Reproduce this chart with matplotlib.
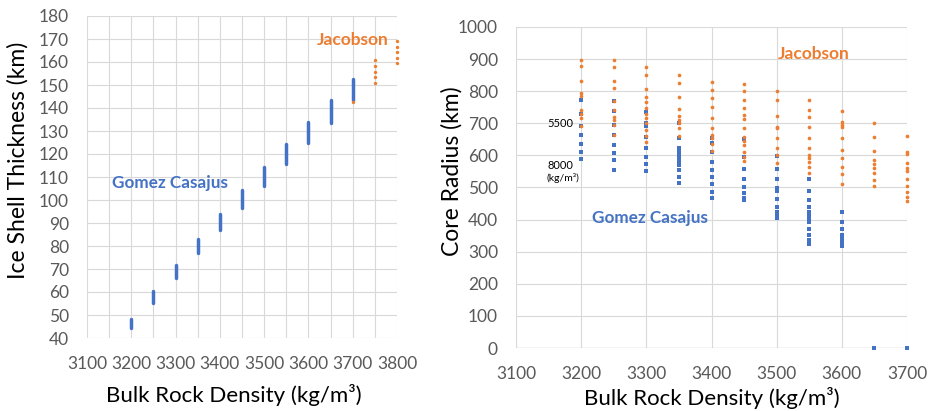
import matplotlib
matplotlib.use("Agg")
import matplotlib.pyplot as plt
from matplotlib.ticker import MultipleLocator

plt.rcParams['font.family'] = ['Lato', 'DejaVu Sans']

BLUE = '#4472C4'
ORANGE = '#ED7D31'
GRID = '#D9D9D9'
TICK = '#595959'

# ---------------- Left panel data: ice shell thickness ----------------
gc_density = [3200, 3250, 3300, 3350, 3400, 3450, 3500, 3550, 3600, 3650, 3700]
gc_shell_min = [44.3, 55.4, 66.1, 76.8, 86.8, 96.6, 106.0, 115.6, 124.6, 133.4, 143.5]
gc_shell_max = [48.4, 60.6, 71.9, 83.0, 93.9, 104.2, 114.3, 124.3, 133.9, 143.5, 152.4]

jac_shell_density = [3700, 3750, 3750, 3750, 3750, 3750, 3800, 3800, 3800, 3800, 3800]
jac_shell_values = [142.8, 160.9, 158.3, 155.8, 153.3, 151.0, 169.3, 166.7, 164.2, 161.9, 159.4]

# ---------------- Right panel data: core radius ----------------
jac_core = {
    3200: [898, 878, 832, 795, 785, 742, 730, 715, 693],
    3250: [897, 875, 832, 809, 770, 740, 720, 710, 695, 665],
    3300: [874, 852, 806, 783, 767, 747, 730, 715, 700, 679, 660, 643],
    3350: [851, 827, 781, 743, 722, 710, 700, 684, 659],
    3400: [829, 803, 778, 752, 716, 685, 664, 655, 635, 613],
    3450: [823, 801, 773, 749, 726, 712, 686, 658, 645, 632, 612, 596, 583],
    3500: [801, 772, 723, 690, 684, 655, 624, 601, 577],
    3550: [772, 741, 720, 690, 653, 622, 601, 591, 578, 565, 544],
    3600: [739, 703, 695, 688, 655, 617, 591, 565, 542, 510],
    3650: [700, 658, 614, 586, 572, 560, 546, 523, 505],
    3700: [660, 612, 604, 577, 562, 550, 525, 505, 487, 471, 459],
}
gc_core = {
    3200: [773, 730, 693, 665, 635, 611, 590],
    3250: [769, 738, 695, 663, 632, 608, 586, 555],
    3300: [736, 700, 693, 658, 624, 596, 572, 551],
    3350: [700, 655, 622, 612, 601, 591, 581, 570, 555, 534, 513],
    3400: [654, 640, 612, 580, 554, 533, 511, 486, 467],
    3450: [651, 596, 558, 527, 503, 484, 468, 461],
    3500: [599, 557, 526, 497, 489, 463, 440, 425, 414, 404],
    3550: [526, 490, 462, 440, 425, 414, 404, 393, 371, 352, 336, 323],
    3600: [425, 393, 370, 352, 340, 328, 319],
    3650: [0],
    3700: [0],
}

fig = plt.figure(figsize=(9.29, 4.11), dpi=100)

# ---------- Left panel ----------
ax1 = fig.add_axes([87/929, 1-338/411, 310/929, 322/411])
ax1.set_xlim(3100, 3800)
ax1.set_ylim(40, 180)
ax1.xaxis.set_major_locator(MultipleLocator(100))
ax1.xaxis.set_minor_locator(MultipleLocator(50))
ax1.yaxis.set_major_locator(MultipleLocator(10))
ax1.grid(True, which='both', axis='x', color=GRID, lw=0.8)
ax1.grid(True, which='major', axis='y', color=GRID, lw=0.8)
ax1.set_axisbelow(True)
ax1.vlines(gc_density, gc_shell_min, gc_shell_max, color=BLUE, lw=2.5, capstyle='round', zorder=3)
ax1.scatter(jac_shell_density, jac_shell_values, s=6, color=ORANGE, zorder=4, linewidths=0, clip_on=False)
ax1.text(3287, 107.4, 'Gomez Casajus', color=BLUE, fontsize=12.3, fontweight='bold', ha='center', va='center')
ax1.text(3700, 169.6, 'Jacobson', color=ORANGE, fontsize=12.5, fontweight='bold', ha='center', va='center')
ax1.set_xlabel('Bulk Rock Density (kg/m³)', fontsize=16)
ax1.set_ylabel('Ice Shell Thickness (km)', fontsize=16.5)
ax1.xaxis.set_label_coords(0.473, -0.177)
ax1.xaxis.label.set_va('center')
ax1.yaxis.set_label_coords(-0.223, 0.553)
ax1.yaxis.label.set_va('center')

# ---------- Right panel ----------
ax2 = fig.add_axes([516/929, 1-348/411, 391/929, 321/411])
ax2.set_xlim(3100, 3700)
ax2.set_ylim(0, 1000)
ax2.xaxis.set_major_locator(MultipleLocator(100))
ax2.yaxis.set_major_locator(MultipleLocator(100))
ax2.grid(True, which='major', color=GRID, lw=0.8)
ax2.set_axisbelow(True)
for d, vals in gc_core.items():
    ax2.scatter([d]*len(vals), vals, s=9, marker='s', color=BLUE, zorder=3, linewidths=0, clip_on=False)
for d, vals in jac_core.items():
    ax2.scatter([d]*len(vals), vals, s=7, marker='o', color=ORANGE, zorder=4, linewidths=0, clip_on=False)
ax2.text(3556, 916, 'Jacobson', color=ORANGE, fontsize=12.5, fontweight='bold', ha='center', va='center')
ax2.text(3306, 405, 'Gomez Casajus', color=BLUE, fontsize=12.3, fontweight='bold', ha='center', va='center')
ax2.text(3168, 698, '5500', color='black', fontsize=8, ha='center', va='center')
ax2.text(3168, 570, '8000', color='black', fontsize=8, ha='center', va='center')
ax2.text(3172, 530, '(kg/m³)', color='black', fontsize=7.5, ha='center', va='center')
ax2.set_xlabel('Bulk Rock Density (kg/m³)', fontsize=16)
ax2.set_ylabel('Core Radius (km)', fontsize=16.5)
ax2.xaxis.set_label_coords(0.501, -0.156)
ax2.xaxis.label.set_va('center')
ax2.yaxis.set_label_coords(-0.164, 0.55)
ax2.yaxis.label.set_va('center')

for ax in (ax1, ax2):
    for sp in ax.spines.values():
        sp.set_visible(False)
    ax.tick_params(which='both', length=0, labelsize=12.5, labelcolor=TICK)
    ax.tick_params(axis='y', pad=13)
    ax.tick_params(axis='x', pad=13)

ax2.axhline(0, color='#BFBFBF', lw=0.9, zorder=2)

fig.savefig('out.png', dpi=100)
